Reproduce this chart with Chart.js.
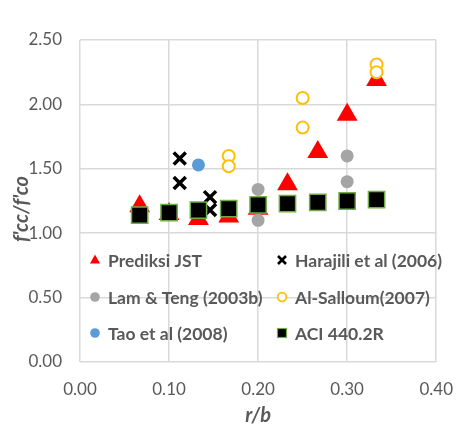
<!DOCTYPE html>
<html>
<head>
<meta charset="utf-8">
<script src="https://cdn.jsdelivr.net/npm/chart.js@4/dist/chart.umd.min.js"></script>
<style>
html,body{margin:0;padding:0;background:#fff;}
canvas{display:block;}
</style>
</head>
<body>
<canvas id="c" width="470" height="425"></canvas>
<script>
// ---- data ----
const seriesNames = ["Prediksi JST","Harajili et al (2006)","Lam & Teng (2003b)","Al-Salloum(2007)","Tao et al (2008)","ACI 440.2R"];
const rbJST = [0.067,0.1,0.133,0.167,0.2,0.233,0.267,0.3,0.333];
const prediksiJST = [1.21,1.15,1.11,1.13,1.19,1.38,1.63,1.92,2.19];
const aciVals = [1.14,1.16,1.18,1.19,1.22,1.23,1.24,1.25,1.26];
const harajiliX = [0.112,0.112,0.146,0.146];
const harajiliY = [1.58,1.39,1.28,1.18];
const lamX = [0.2,0.2,0.3,0.3];
const lamY = [1.34,1.10,1.60,1.40];
const salloumX = [0.167,0.167,0.25,0.25,0.333,0.333];
const salloumY = [1.60,1.52,2.05,1.82,2.31,2.25];
const taoX = [0.133];
const taoY = [1.53];
const xTickValues = [0,0.1,0.2,0.3,0.4];
const yTickValues = [0,0.5,1.0,1.5,2.0,2.5];
const xTitle = "r/b";
const yTitle = "f'cc/f'co";

const pts = (xs, ys) => xs.map((x, i) => ({x: x, y: ys[i]}));

const FONT = "Lato";
const GRAY = "#595959";

const styles = [
  {pointStyle:'triangle', radius:12, bg:'#FF0000', bc:'#FF0000', bw:0},
  {pointStyle:'crossRot', radius:8.5, bg:'#000', bc:'#000', bw:3.5},
  {pointStyle:'circle', radius:6.5, bg:'#A5A5A5', bc:'#A5A5A5', bw:0},
  {pointStyle:'circle', radius:6, bg:'#FFFFFF', bc:'#FFC000', bw:2},
  {pointStyle:'circle', radius:6.5, bg:'#5B9BD5', bc:'#5B9BD5', bw:0},
  {pointStyle:'rect', radius:11.5, bg:'#000000', bc:'#70AD47', bw:1.5}
];
const dataSets = [
  pts(rbJST, prediksiJST),
  pts(harajiliX, harajiliY),
  pts(lamX, lamY),
  pts(salloumX, salloumY),
  pts(taoX, taoY),
  pts(rbJST, aciVals)
];

const datasets = seriesNames.map((name, i) => ({
  label: name,
  data: dataSets[i],
  pointStyle: styles[i].pointStyle,
  pointRadius: styles[i].radius,
  pointHoverRadius: styles[i].radius,
  pointBackgroundColor: styles[i].bg,
  pointBorderColor: styles[i].bc,
  pointBorderWidth: styles[i].bw,
  showLine: false,
  order: seriesNames.length - 1 - i
}));

// legend drawn inside the plot area (transparent background) + y title
const insideLegend = {
  id: 'insideLegend',
  afterDatasetsDraw(chart) {
    const ctx = chart.ctx;
    const cols = [{mx: 95, tx: 108}, {mx: 282, tx: 295}];
    const rows = [260, 297, 333];
    ctx.save();
    ctx.font = "bold 17.5px " + FONT;
    ctx.textBaseline = 'middle';
    ctx.textAlign = 'left';
    chart.data.datasets.forEach((ds, i) => {
      const c = cols[i % 2], y = rows[Math.floor(i / 2)];
      const x = c.mx;
      const st = ds.pointStyle;
      ctx.beginPath();
      if (st === 'triangle') {
        ctx.fillStyle = ds.pointBackgroundColor;
        ctx.moveTo(x, y - 5.5); ctx.lineTo(x + 5, y + 3.5); ctx.lineTo(x - 5, y + 3.5); ctx.closePath(); ctx.fill();
      } else if (st === 'crossRot') {
        ctx.strokeStyle = ds.pointBorderColor; ctx.lineWidth = 2.6;
        ctx.moveTo(x - 4, y - 4); ctx.lineTo(x + 4, y + 4);
        ctx.moveTo(x + 4, y - 4); ctx.lineTo(x - 4, y + 4); ctx.stroke();
      } else if (st === 'circle') {
        ctx.arc(x, y, ds.pointBorderWidth ? 4.3 : 4.8, 0, Math.PI * 2);
        ctx.fillStyle = ds.pointBackgroundColor; ctx.fill();
        if (ds.pointBorderWidth) { ctx.strokeStyle = ds.pointBorderColor; ctx.lineWidth = 1.8; ctx.stroke(); }
      } else if (st === 'rect') {
        ctx.fillStyle = ds.pointBackgroundColor; ctx.fillRect(x - 4.5, y - 4.5, 9, 9);
        ctx.strokeStyle = ds.pointBorderColor; ctx.lineWidth = 1.2; ctx.strokeRect(x - 4.5, y - 4.5, 9, 9);
      }
      ctx.fillStyle = GRAY;
      ctx.fillText(ds.label, c.tx, y + 1);
    });
    // y-axis title
    ctx.translate(22, 209);
    ctx.rotate(-Math.PI / 2);
    ctx.textAlign = 'center';
    ctx.font = "italic bold 20px " + FONT;
    ctx.fillText(yTitle, 0, 0);
    ctx.restore();
  }
};

new Chart(document.getElementById('c'), {
  type: 'scatter',
  data: { datasets: datasets },
  options: {
    responsive: false,
    animation: false,
    events: [],
    layout: { padding: { left: 0, right: 19, top: 40, bottom: 0 } },
    plugins: { legend: { display: false }, tooltip: { enabled: false } },
    scales: {
      x: {
        type: 'linear', min: 0, max: 0.4,
        afterBuildTicks: s => { s.ticks = xTickValues.map(v => ({value: v})); },
        afterFit: s => { s.height = 63; },
        ticks: { callback: v => Number(v).toFixed(2), font: { family: FONT, size: 17 }, color: GRAY, padding: 17, maxRotation: 0 },
        grid: { color: '#D9D9D9', lineWidth: 1.5, drawTicks: false },
        border: { display: false },
        title: { display: true, text: xTitle, font: { family: FONT, size: 20, weight: 'bold', style: 'italic' }, color: GRAY, padding: { top: 0, bottom: -3 } }
      },
      y: {
        type: 'linear', min: 0, max: 2.5,
        afterBuildTicks: s => { s.ticks = yTickValues.map(v => ({value: v})); },
        afterFit: s => { s.width = 80; },
        ticks: { callback: v => Number(v).toFixed(2), font: { family: FONT, size: 17 }, color: GRAY, padding: 18 },
        grid: { color: '#D9D9D9', lineWidth: 1.5, drawTicks: false },
        border: { display: false },
        title: { display: false }
      }
    }
  },
  plugins: [insideLegend]
});
</script>
</body>
</html>
